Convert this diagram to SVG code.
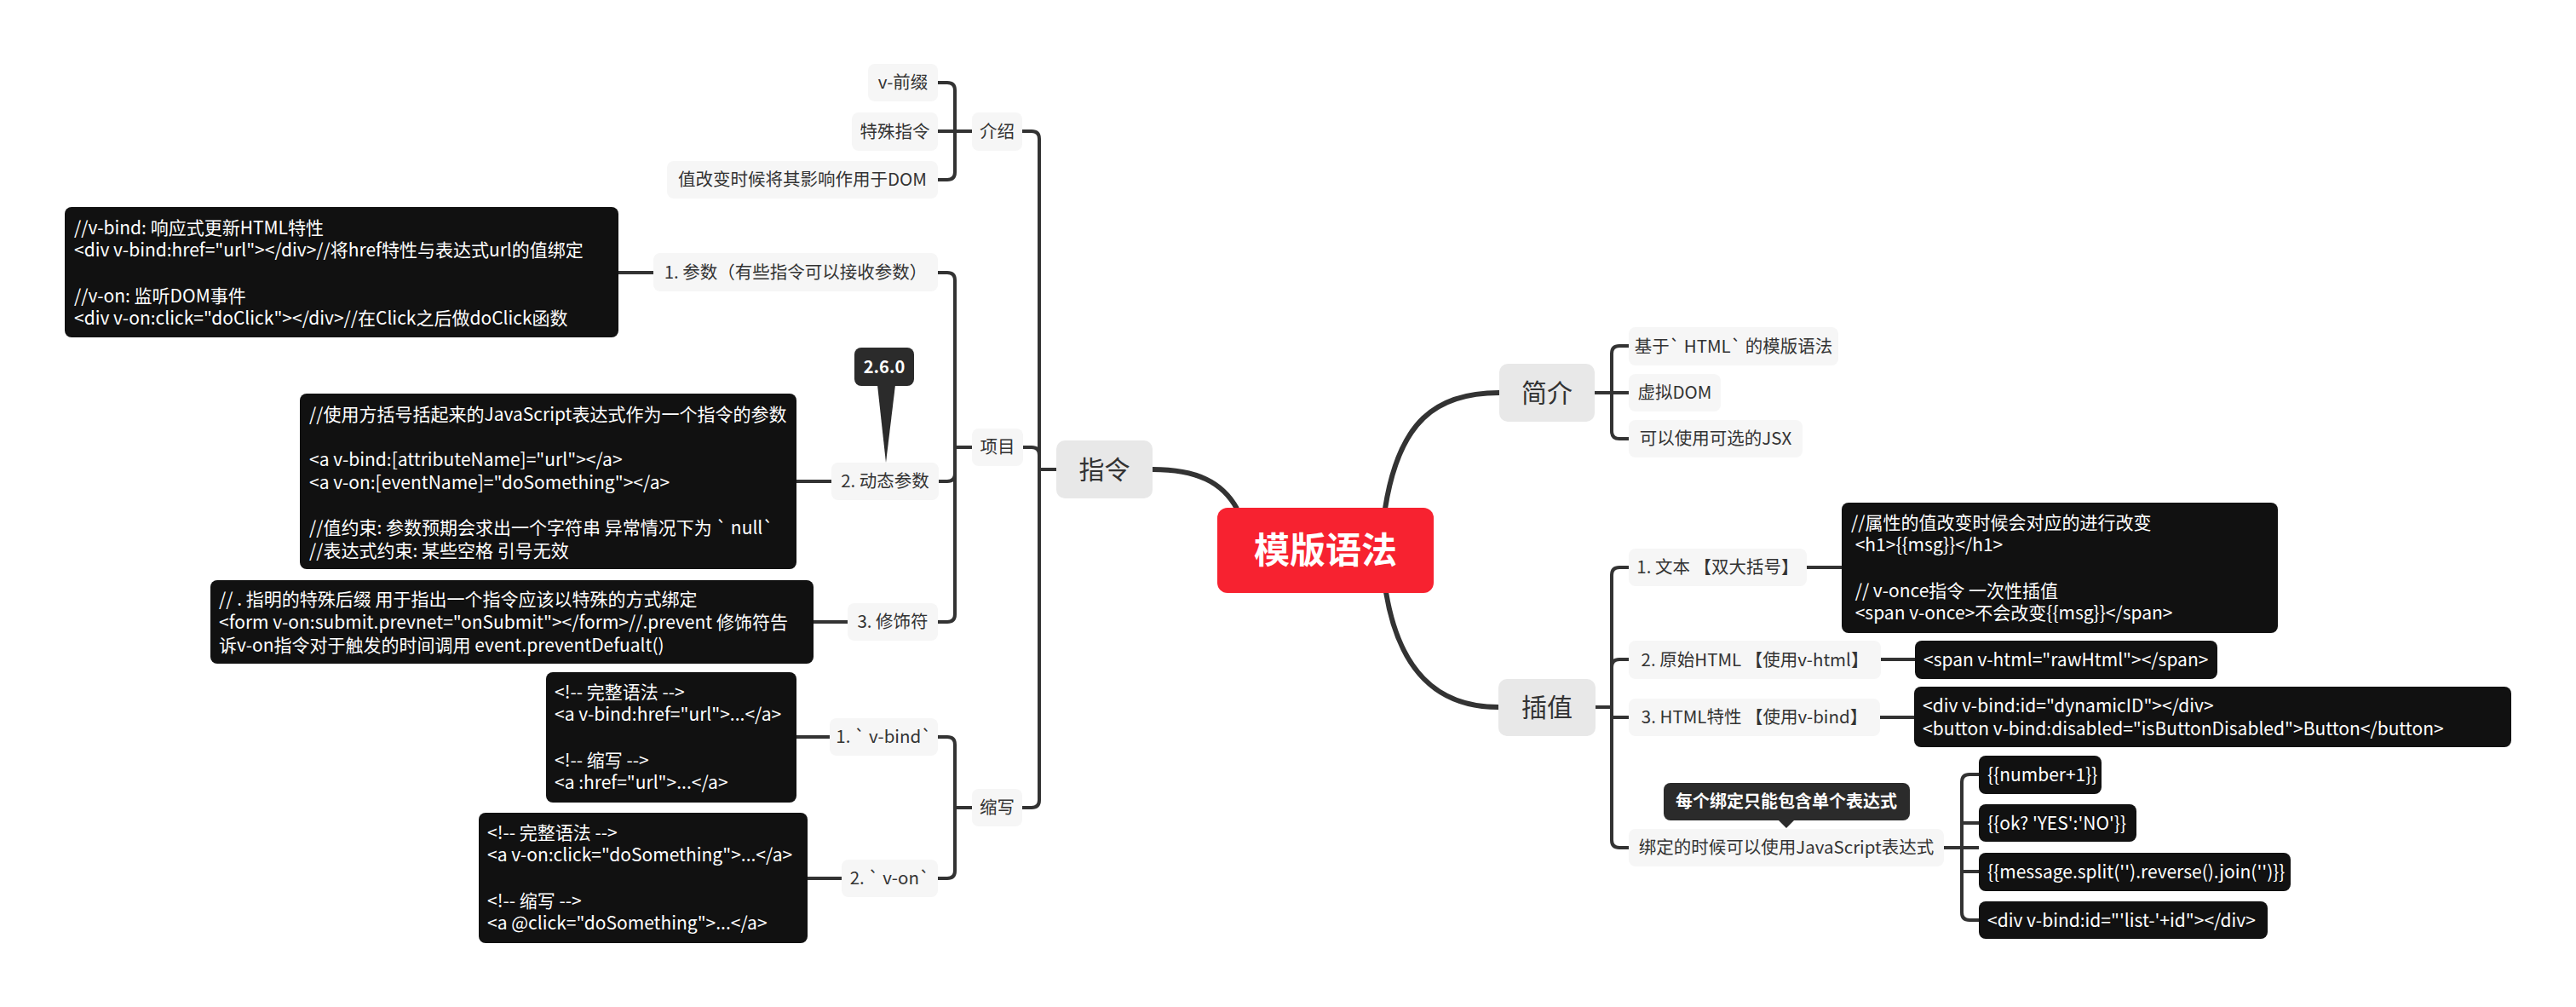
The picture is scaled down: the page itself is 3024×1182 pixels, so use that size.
<svg xmlns="http://www.w3.org/2000/svg" width="3024" height="1182" viewBox="0 0 3024 1182">
<style>
text{font-family:"Noto Sans CJK SC","Noto Sans",sans-serif;}
.lbl{font-size:20.5px;fill:#333;text-anchor:middle;}
.big{font-size:30px;fill:#333;text-anchor:middle;}
.code{font-size:21px;fill:#fff;}
.sub{fill:#f6f6f6;}
.main{fill:#e8e8e8;}
.blk{fill:#111;}
.tip{fill:#2b2b2b;}
.tipt{font-size:20px;font-weight:bold;fill:#fff;text-anchor:middle;}
.ln{fill:none;stroke:#333;stroke-width:4;stroke-linecap:butt;}
.cv{fill:none;stroke:#333;stroke-width:6;}
</style>
<rect width="3024" height="1182" fill="#fff"/>
<g id="connectors">
<path class="cv" d="M1353,551 C1405,551 1435,566 1452,597"/>
<path class="cv" d="M1626,597 C1642,495 1685,461 1760,461"/>
<path class="cv" d="M1627,695 C1642,785 1685,830 1759,830"/>
<path class="ln" d="M1200,154 H1211 Q1220,154 1220,163 V939 Q1220,948 1211,948 H1200"/>
<path class="ln" d="M1201,525 H1211 Q1220,525 1220,534"/>
<path class="ln" d="M1220,551 H1240"/>
<path class="ln" d="M1101,97 H1112 Q1121,97 1121,106 V202 Q1121,211 1112,211 H1101"/>
<path class="ln" d="M1101,154 H1141"/>
<path class="ln" d="M1101,320 H1112 Q1121,320 1121,329 V721 Q1121,730 1112,730 H1101"/>
<path class="ln" d="M1102,565 H1112 Q1121,565 1121,556"/>
<path class="ln" d="M1121,525 H1141"/>
<path class="ln" d="M1101,865 H1112 Q1121,865 1121,874 V1022 Q1121,1031 1112,1031 H1101"/>
<path class="ln" d="M1121,948 H1141"/>
<path class="ln" d="M726,320 H767"/>
<path class="ln" d="M935,565 H976"/>
<path class="ln" d="M955,730 H995"/>
<path class="ln" d="M935,865 H974"/>
<path class="ln" d="M948,1031 H988"/>
<path class="ln" d="M1912,406 H1901 Q1892,406 1892,415 V506 Q1892,515 1901,515 H1912"/>
<path class="ln" d="M1872,461 H1912"/>
<path class="ln" d="M1912,666 H1901 Q1892,666 1892,675 V986 Q1892,995 1901,995 H1912"/>
<path class="ln" d="M1912,774 H1901 Q1892,774 1892,783"/>
<path class="ln" d="M1873,830 H1892"/>
<path class="ln" d="M1892,842 H1912"/>
<path class="ln" d="M2121,666 H2162"/>
<path class="ln" d="M2208,774 H2248"/>
<path class="ln" d="M2207,842 H2247"/>
<path class="ln" d="M2323,909 H2312 Q2303,909 2303,918 V1071 Q2303,1080 2312,1080 H2323"/>
<path class="ln" d="M2282,995 H2323"/>
<path class="ln" d="M2303,966 H2323"/>
<path class="ln" d="M2303,1023 H2323"/>
</g>
<g id="root">
<rect x="1429" y="596" width="254" height="100" rx="12" fill="#f72230"/>
<text x="1556" y="661" font-size="42" font-weight="bold" fill="#fff" text-anchor="middle">模版语法</text>
</g>
<g id="zhiling">
<rect class="main" x="1240" y="517" width="113" height="68" rx="10"/>
<text class="big" x="1296.5" y="561.5">指令</text>
</g>
<g id="jianjie">
<rect class="main" x="1760" y="427" width="112" height="68" rx="10"/>
<text class="big" x="1816" y="471.5">简介</text>
</g>
<g id="chazhi">
<rect class="main" x="1759" y="797" width="114" height="67" rx="10"/>
<text class="big" x="1816" y="841">插值</text>
</g>
<g id="jieshao"><rect class="sub" x="1141" y="132" width="59" height="45" rx="8"/><text class="lbl" x="1170.5" y="161.5">介绍</text></g>
<g id="xiangmu"><rect class="sub" x="1141" y="503" width="60" height="44" rx="8"/><text class="lbl" x="1171" y="532">项目</text></g>
<g id="suoxie"><rect class="sub" x="1141" y="926" width="59" height="44" rx="8"/><text class="lbl" x="1170.5" y="955">缩写</text></g>
<g id="vprefix"><rect class="sub" x="1019" y="75" width="82" height="44" rx="8"/><text class="lbl" x="1060" y="104">v-前缀</text></g>
<g id="special"><rect class="sub" x="1000" y="132" width="101" height="45" rx="8"/><text class="lbl" x="1050.5" y="161.5">特殊指令</text></g>
<g id="valuechange"><rect class="sub" x="783" y="189" width="318" height="44" rx="8"/><text class="lbl" x="942" y="218">值改变时候将其影响作用于DOM</text></g>
<g id="param"><rect class="sub" x="767" y="297" width="334" height="45" rx="8"/><text class="lbl" x="934" y="326.5">1. 参数（有些指令可以接收参数）</text></g>
<g id="dynparam"><rect class="sub" x="976" y="543" width="126" height="44" rx="8"/><text class="lbl" x="1039" y="572">2. 动态参数</text></g>
<g id="modifier"><rect class="sub" x="995" y="708" width="106" height="44" rx="8"/><text class="lbl" x="1048" y="737">3. 修饰符</text></g>
<g id="vbind"><rect class="sub" x="974" y="843" width="127" height="44" rx="8"/><text class="lbl" x="1037.5" y="872">1. ` v-bind`</text></g>
<g id="von"><rect class="sub" x="988" y="1009" width="113" height="44" rx="8"/><text class="lbl" x="1044.5" y="1038">2. ` v-on`</text></g>
<g id="code-param">
<rect class="blk" x="76" y="243" width="650" height="153" rx="8"/>
<text class="code"><tspan x="87" y="274.5">//v-bind: 响应式更新HTML特性</tspan><tspan x="87" y="301.2">&lt;div v-bind:href="url"&gt;&lt;/div&gt;//将href特性与表达式url的值绑定</tspan><tspan x="87" y="354.5">//v-on: 监听DOM事件</tspan><tspan x="87" y="381.2">&lt;div v-on:click="doClick"&gt;&lt;/div&gt;//在Click之后做doClick函数</tspan></text>
</g>
<g id="callout-260">
<rect class="tip" x="1003" y="408" width="70" height="45" rx="8"/>
<polygon class="tip" points="1030,452 1051,452 1040,543"/>
<text class="tipt" x="1038" y="437.5">2.6.0</text>
</g>
<g id="code-dynparam">
<rect class="blk" x="352" y="462" width="583" height="206" rx="8"/>
<text class="code"><tspan x="363" y="493.5">//使用方括号括起来的JavaScript表达式作为一个指令的参数</tspan><tspan x="363" y="546.8">&lt;a v-bind:[attributeName]="url"&gt;&lt;/a&gt;</tspan><tspan x="363" y="573.5">&lt;a v-on:[eventName]="doSomething"&gt;&lt;/a&gt;</tspan><tspan x="363" y="626.8">//值约束: 参数预期会求出一个字符串 异常情况下为 ` null`</tspan><tspan x="363" y="653.5">//表达式约束: 某些空格 引号无效</tspan></text>
</g>
<g id="code-modifier">
<rect class="blk" x="247" y="681" width="708" height="98" rx="8"/>
<text class="code"><tspan x="257" y="710.5">// . 指明的特殊后缀 用于指出一个指令应该以特殊的方式绑定</tspan><tspan x="257" y="738">&lt;form v-on:submit.prevnet="onSubmit"&gt;&lt;/form&gt;//.prevent 修饰符告</tspan><tspan x="257" y="765">诉v-on指令对于触发的时间调用 event.preventDefualt()</tspan></text>
</g>
<g id="code-vbind">
<rect class="blk" x="641" y="789" width="294" height="153" rx="8"/>
<text class="code"><tspan x="651" y="819.5">&lt;!-- 完整语法 --&gt;</tspan><tspan x="651" y="846.2">&lt;a v-bind:href="url"&gt;...&lt;/a&gt;</tspan><tspan x="651" y="899.5">&lt;!-- 缩写 --&gt;</tspan><tspan x="651" y="926.2">&lt;a :href="url"&gt;...&lt;/a&gt;</tspan></text>
</g>
<g id="code-von">
<rect class="blk" x="562" y="954" width="386" height="153" rx="8"/>
<text class="code"><tspan x="572" y="984.5">&lt;!-- 完整语法 --&gt;</tspan><tspan x="572" y="1011.2">&lt;a v-on:click="doSomething"&gt;...&lt;/a&gt;</tspan><tspan x="572" y="1064.5">&lt;!-- 缩写 --&gt;</tspan><tspan x="572" y="1091.2">&lt;a @click="doSomething"&gt;...&lt;/a&gt;</tspan></text>
</g>
<g id="html-based"><rect class="sub" x="1912" y="384" width="246" height="45" rx="8"/><text class="lbl" x="2035" y="413.5">基于` HTML` 的模版语法</text></g>
<g id="vdom"><rect class="sub" x="1912" y="439" width="108" height="44" rx="8"/><text class="lbl" x="1966" y="468">虚拟DOM</text></g>
<g id="jsx"><rect class="sub" x="1912" y="493" width="204" height="44" rx="8"/><text class="lbl" x="2014" y="522">可以使用可选的JSX</text></g>
<g id="text-interp"><rect class="sub" x="1912" y="644" width="209" height="44" rx="8"/><text class="lbl" x="2016.5" y="673">1. 文本 【双大括号】</text></g>
<g id="raw-html"><rect class="sub" x="1912" y="752" width="296" height="45" rx="8"/><text class="lbl" x="2060" y="781.5">2. 原始HTML 【使用v-html】</text></g>
<g id="html-attr"><rect class="sub" x="1912" y="820" width="295" height="44" rx="8"/><text class="lbl" x="2059.5" y="849">3. HTML特性 【使用v-bind】</text></g>
<g id="js-expr"><rect class="sub" x="1912" y="973" width="370" height="44" rx="8"/><text class="lbl" x="2097" y="1002">绑定的时候可以使用JavaScript表达式</text></g>
<g id="callout-single">
<rect class="tip" x="1953" y="919" width="289" height="44" rx="8"/>
<polygon class="tip" points="2087,962 2107,962 2097,972"/>
<text class="tipt" x="2097" y="948" font-size="21">每个绑定只能包含单个表达式</text>
</g>
<g id="code-text">
<rect class="blk" x="2162" y="590" width="512" height="153" rx="8"/>
<text class="code"><tspan x="2173" y="620.5">//属性的值改变时候会对应的进行改变</tspan><tspan x="2173" y="647.2"> &lt;h1&gt;{{msg}}&lt;/h1&gt;</tspan><tspan x="2173" y="700.5"> // v-once指令 一次性插值</tspan><tspan x="2173" y="727.2"> &lt;span v-once&gt;不会改变{{msg}}&lt;/span&gt;</tspan></text>
</g>
<g id="code-raw">
<rect class="blk" x="2248" y="752" width="355" height="45" rx="8"/>
<text class="code" x="2258" y="781.5">&lt;span v-html="rawHtml"&gt;&lt;/span&gt;</text>
</g>
<g id="code-attr">
<rect class="blk" x="2247" y="806" width="701" height="71" rx="8"/>
<text class="code"><tspan x="2257" y="835.5">&lt;div v-bind:id="dynamicID"&gt;&lt;/div&gt;</tspan><tspan x="2257" y="862.5">&lt;button v-bind:disabled="isButtonDisabled"&gt;Button&lt;/button&gt;</tspan></text>
</g>
<g id="expr1"><rect class="blk" x="2323" y="887" width="144" height="45" rx="8"/><text class="code" x="2333" y="916.5">{{number+1}}</text></g>
<g id="expr2"><rect class="blk" x="2323" y="944" width="185" height="44" rx="8"/><text class="code" x="2333" y="973.5">{{ok? 'YES':'NO'}}</text></g>
<g id="expr3"><rect class="blk" x="2323" y="1001" width="366" height="45" rx="8"/><text class="code" x="2333" y="1030.5">{{message.split('').reverse().join('')}}</text></g>
<g id="expr4"><rect class="blk" x="2323" y="1058" width="339" height="44" rx="8"/><text class="code" x="2333" y="1087.5">&lt;div v-bind:id="'list-'+id"&gt;&lt;/div&gt;</text></g>
</svg>
